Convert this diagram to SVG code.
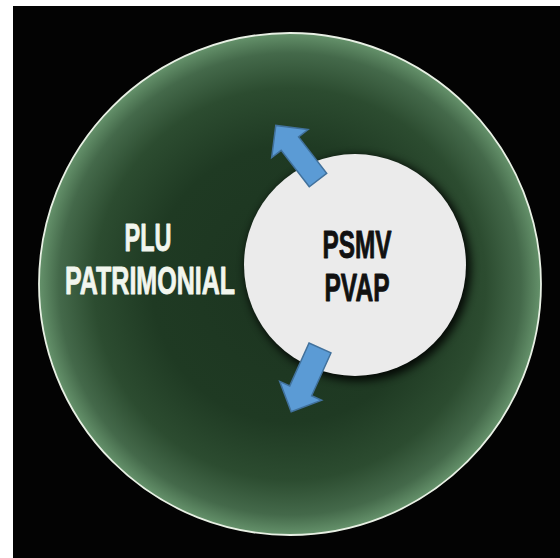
<svg xmlns="http://www.w3.org/2000/svg" width="560" height="558" viewBox="0 0 560 558">
  <defs>
    <radialGradient id="outerGrad" cx="0.5" cy="0.5" r="0.5">
      <stop offset="0" stop-color="#1c3420"/>
      <stop offset="0.55" stop-color="#1f3a23"/>
      <stop offset="0.78" stop-color="#2c4c30"/>
      <stop offset="0.92" stop-color="#44694a"/>
      <stop offset="1" stop-color="#65926b"/>
    </radialGradient>
    <filter id="shadow" x="-30%" y="-30%" width="160%" height="160%">
      <feGaussianBlur stdDeviation="4"/>
    </filter>
    <style>
      .label { font-family: "Liberation Sans", "DejaVu Sans Condensed", sans-serif; font-weight: bold; text-anchor: middle; font-size: 38px; stroke-width: 0.9; stroke-linejoin: round; }
      .light { fill: #f2f6ee; stroke: #f2f6ee; }
      .dark { fill: #111111; stroke: #111111; }
      .arrow { fill: #5b9bd5; stroke: #41719c; stroke-width: 1.5; stroke-linejoin: miter; }
    </style>
  </defs>
  <rect x="0" y="0" width="560" height="558" fill="#ffffff"/>
  <rect x="13" y="6" width="547" height="552" fill="#030303"/>

  <g id="plu-patrimonial">
    <circle cx="290" cy="284" r="251" fill="url(#outerGrad)" stroke="#e8f0e4" stroke-width="1.8"/>
    <text class="label light" x="148" y="251" textLength="47" lengthAdjust="spacingAndGlyphs">PLU</text>
    <text class="label light" x="150" y="294" textLength="170" lengthAdjust="spacingAndGlyphs">PATRIMONIAL</text>
  </g>

  <g id="psmv-pvap">
    <circle cx="358" cy="268" r="113" fill="#000000" opacity="0.85" filter="url(#shadow)"/>
    <circle cx="355" cy="265" r="111" fill="#ebebeb"/>
    <text class="label dark" x="357" y="258" textLength="69" lengthAdjust="spacingAndGlyphs">PSMV</text>
    <text class="label dark" x="357" y="301" textLength="65" lengthAdjust="spacingAndGlyphs">PVAP</text>
  </g>

  <g id="connectors">
    <polygon class="arrow" transform="translate(318,180) rotate(-127.7)" points="0,-11 46,-11 46,-23 69,0 46,23 46,11 0,11"/>
    <polygon class="arrow" transform="translate(320,348) rotate(114.3)" points="0,-12 47,-12 47,-23 70,0 47,23 47,12 0,12"/>
  </g>
</svg>
